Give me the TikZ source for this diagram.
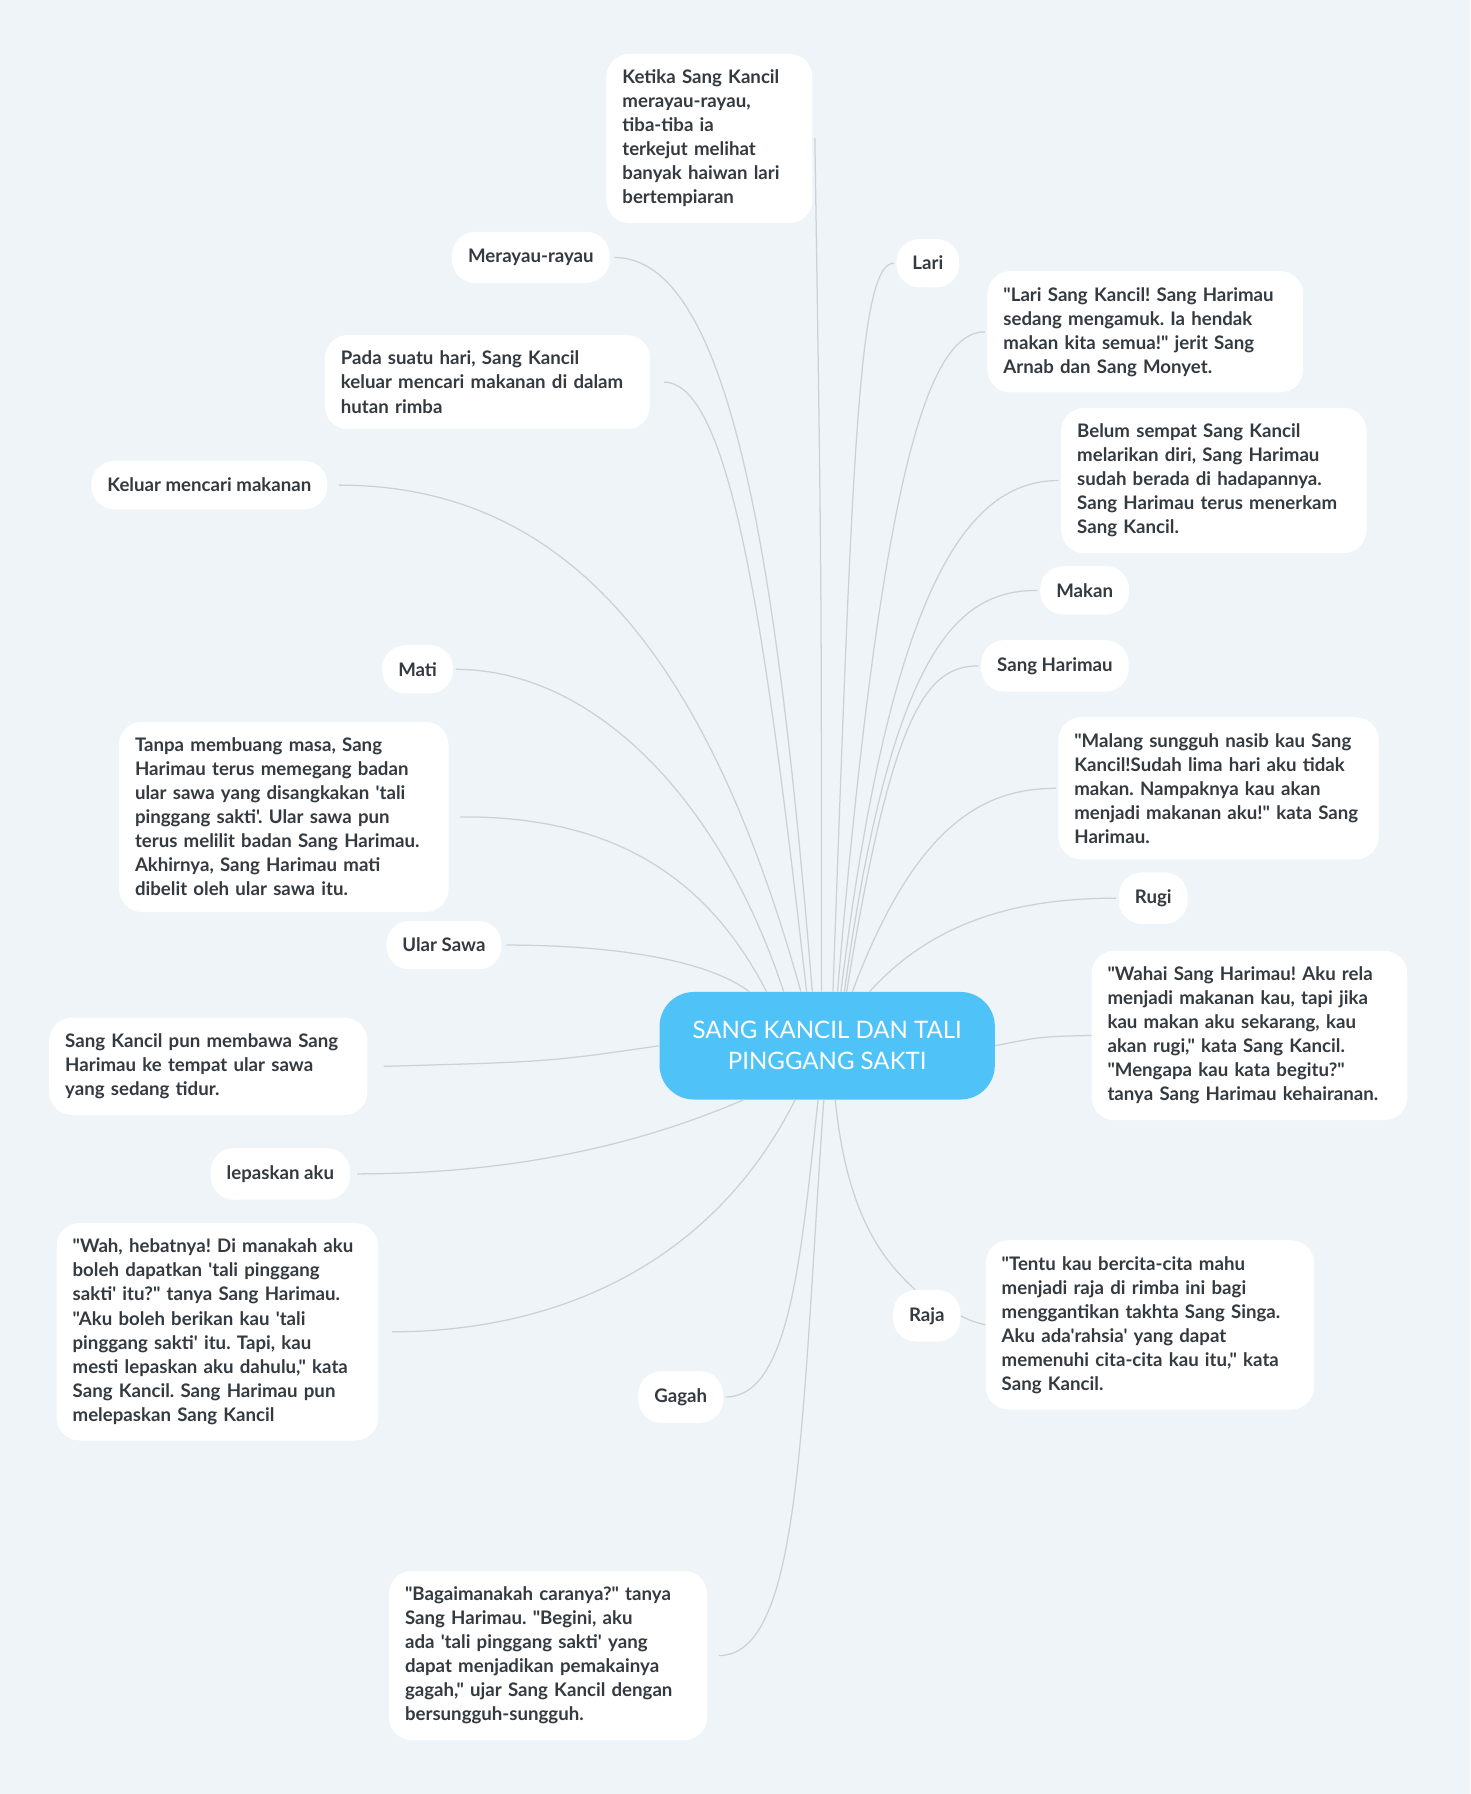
\documentclass[tikz,border=0pt]{standalone}
\usepackage{fontspec}
\setmainfont{Lato}[Ligatures=TeXOff]
\definecolor{bg}{HTML}{EEF4F7}
\definecolor{tx}{HTML}{333A40}
\definecolor{ln}{HTML}{CDD1D4}
\definecolor{cb}{HTML}{4FC3F7}
\begin{document}
\frenchspacing\hyphenpenalty=10000\exhyphenpenalty=10000
\begin{tikzpicture}[x=1pt,y=-1pt,
 box/.style={fill=white,rounded corners=20pt,inner xsep=14pt,inner ysep=14pt,align=left,text=tx,font=\fontsize{16.3}{21}\selectfont\bfseries},
 sm/.style={box,inner ysep=15pt},
 cn/.style={draw=ln,line width=1.1pt}]
\fill[bg] (0,0) rectangle (1285,1568);
\useasboundingbox (0,0) rectangle (1285,1568);
\node[fill=cb,rounded corners=30pt,minimum width=293pt,minimum height=94pt,align=center,text=white,font=\fontsize{21}{27}\selectfont] (c) at (723,914) {SANG KANCIL DAN TALI\\PINGGANG SAKTI};
\node[box,text width=152pt] (n1) at (620,121) {Ketika Sang Kancil merayau-rayau, tiba-tiba ia terkejut melihat banyak haiwan lari bertempiaran};
\node[sm] (n2) at (464,225) {Merayau-rayau};
\node[box,text width=256pt] (n3) at (426,334) {Pada suatu hari, Sang Kancil keluar mencari makanan di dalam hutan rimba};
\node[sm] (n4) at (183,424) {Keluar mencari makanan};
\node[sm] (n5) at (365,585) {Mati};
\node[box,text width=260pt] (n6) at (248,714) {Tanpa membuang masa, Sang Harimau terus memegang badan ular sawa yang disangkakan 'tali pinggang sakti'. Ular sawa pun terus melilit badan Sang Harimau. Akhirnya, Sang Harimau mati dibelit oleh ular sawa itu.};
\node[sm] (n7) at (388,826) {Ular Sawa};
\node[box,text width=250pt] (n8) at (182,932) {Sang Kancil pun membawa Sang Harimau ke tempat ular sawa yang sedang tidur.};
\node[sm] (n9) at (245,1026) {lepaskan aku};
\node[box,text width=253pt] (n10) at (190,1164) {"Wah, hebatnya! Di manakah aku boleh dapatkan 'tali pinggang sakti' itu?" tanya Sang Harimau. "Aku boleh berikan kau 'tali pinggang sakti' itu. Tapi, kau mesti lepaskan aku dahulu," kata Sang Kancil. Sang Harimau pun melepaskan Sang Kancil};
\node[sm] (n11) at (595,1221) {Gagah};
\node[box,text width=250pt] (n12) at (479,1447) {"Bagaimanakah caranya?" tanya Sang Harimau. "Begini, aku ada 'tali pinggang sakti' yang dapat menjadikan pemakainya gagah," ujar Sang Kancil dengan bersungguh-sungguh.};
\node[sm] (n13) at (810,1150) {Raja};
\node[box,text width=259pt] (n14) at (1005,1158) {"Tentu kau bercita-cita mahu menjadi raja di rimba ini bagi menggantikan takhta Sang Singa. Aku ada'rahsia' yang dapat memenuhi cita-cita kau itu," kata Sang Kancil.};
\node[box,text width=248pt] (n15) at (1092,905) {"Wahai Sang Harimau! Aku rela menjadi makanan kau, tapi jika kau makan aku sekarang, kau akan rugi," kata Sang Kancil. "Mengapa kau kata begitu?" tanya Sang Harimau kehairanan.};
\node[sm] (n16) at (1008,785) {Rugi};
\node[box,text width=252pt] (n17) at (1065,689) {"Malang sungguh nasib kau Sang Kancil!Sudah lima hari aku tidak makan. Nampaknya kau akan menjadi makanan aku!" kata Sang Harimau.};
\node[sm] (n18) at (922,582) {Sang Harimau};
\node[sm] (n19) at (948,516) {Makan};
\node[box,text width=239pt] (n20) at (1061,420) {Belum sempat Sang Kancil melarikan diri, Sang Harimau sudah berada di hadapannya. Sang Harimau terus menerkam Sang Kancil.};
\node[box,text width=248pt] (n21) at (1001,290) {"Lari Sang Kancil! Sang Harimau sedang mengamuk. Ia hendak makan kita semua!" jerit Sang Arnab dan Sang Monyet.};
\node[sm] (n22) at (811,230) {Lari};
% connectors
\draw[cn] ([xshift=-5pt]c.north) .. controls (718,500) .. ([xshift=2pt]n1.east);
\draw[cn] ([xshift=-13pt]c.north) .. controls (680,500) and (640,225) .. ([xshift=4pt]n2.east);
\draw[cn] ([xshift=-18pt]c.north) .. controls (670,560) and (640,334) .. ([xshift=12pt]n3.east);
\draw[cn] ([xshift=-23pt]c.north) .. controls (620,580) and (500,424) .. ([xshift=10pt]n4.east);
\draw[cn] ([xshift=-38pt]c.north) .. controls (630,700) and (520,585) .. ([xshift=2pt]n5.east);
\draw[cn] ([xshift=-53pt]c.north) .. controls (620,770) and (540,713) .. ([xshift=10pt]n6.east);
\draw[cn] ([xshift=-68pt]c.north) .. controls (620,840) and (540,826) .. ([xshift=4pt]n7.east);
\draw[cn] (c.west) .. controls (480,928) .. ([xshift=14pt]n8.east);
\draw[cn] ([xshift=-73pt]c.south) .. controls (560,1000) and (450,1026) .. ([xshift=6pt]n9.east);
\draw[cn] ([xshift=-28pt]c.south) .. controls (620,1110) and (480,1164) .. ([xshift=12pt]n10.east);
\draw[cn] ([xshift=-8pt]c.south) .. controls (700,1100) and (690,1221) .. ([xshift=2pt]n11.east);
\draw[cn] ([xshift=-3pt]c.south) .. controls (700,1250) and (700,1447) .. ([xshift=10pt]n12.east);
\draw[cn] ([xshift=7pt]c.south) .. controls (740,1060) and (770,1100) .. ([xshift=-10pt]n13.north);
\draw[cn] (n13.east) .. controls (850,1155) .. (n14.west);
\draw[cn] (c.east) .. controls (910,906) .. (n15.west);
\draw[cn] ([xshift=37pt]c.north) .. controls (820,800) and (900,785) .. ([xshift=-2pt]n16.west);
\draw[cn] ([xshift=22pt]c.north) .. controls (800,720) and (860,689) .. ([xshift=-2pt]n17.west);
\draw[cn] ([xshift=17pt]c.north) .. controls (780,620) and (810,582) .. ([xshift=-2pt]n18.west);
\draw[cn] ([xshift=15pt]c.north) .. controls (780,560) and (840,516) .. ([xshift=-2pt]n19.west);
\draw[cn] ([xshift=12pt]c.north) .. controls (780,500) and (850,420) .. ([xshift=-2pt]n20.west);
\draw[cn] ([xshift=9pt]c.north) .. controls (770,420) and (810,290) .. ([xshift=-2pt]n21.west);
\draw[cn] ([xshift=5pt]c.north) .. controls (745,400) and (750,230) .. ([xshift=-2pt]n22.west);
\end{tikzpicture}
\end{document}
